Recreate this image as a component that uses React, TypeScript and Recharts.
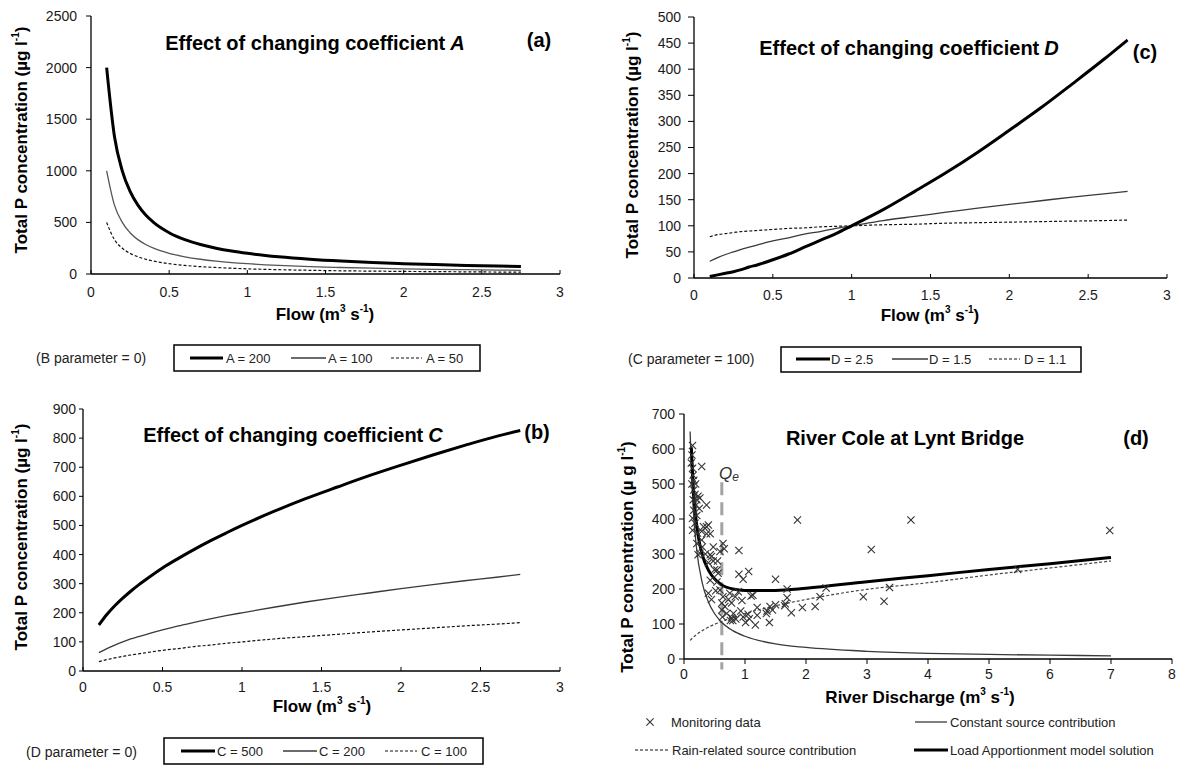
import React from 'react';
import { LineChart, ComposedChart, Line, Scatter, XAxis, YAxis, ReferenceLine } from 'recharts';

const W = 1185;
const H = 765;
const FONT = '"Liberation Sans", Arial, Helvetica, sans-serif';

// ---------- data: panels (a)-(c) share a flow grid ----------
const flowGrid = [0.1, 0.15, 0.2, 0.25, 0.3, 0.35, 0.4, 0.5, 0.6, 0.7, 0.8, 0.9, 1.0, 1.2, 1.4, 1.6, 1.8, 2.0, 2.2, 2.4, 2.6, 2.75];

// (a) changing coefficient A
const concA200 = [2000, 1333, 1000, 800, 667, 571, 500, 400, 333, 286, 250, 222, 200, 167, 143, 125, 111, 100, 91, 83, 77, 73];
const concA100 = [1000, 667, 500, 400, 333, 286, 250, 200, 167, 143, 125, 111, 100, 83, 71, 63, 56, 50, 45, 42, 38, 36];
const concA50 = [500, 333, 250, 200, 167, 143, 125, 100, 83, 71, 63, 56, 50, 42, 36, 31, 28, 25, 23, 21, 19, 18];

// (b) changing coefficient C
const concC500 = [158, 194, 224, 250, 274, 296, 316, 354, 387, 418, 447, 474, 500, 548, 592, 632, 671, 707, 742, 775, 806, 826];
const concC200 = [63, 77, 89, 100, 110, 118, 126, 141, 155, 167, 179, 190, 200, 219, 237, 253, 268, 283, 297, 310, 322, 332];
const concC100 = [32, 39, 45, 50, 55, 59, 63, 71, 77, 84, 89, 95, 100, 110, 118, 126, 134, 141, 148, 155, 161, 166];

// (c) changing coefficient D
const concD25 = [3, 6, 9, 12, 16, 21, 25, 35, 46, 59, 72, 85, 100, 131, 166, 202, 241, 283, 326, 372, 419, 456];
const concD15 = [32, 39, 45, 50, 55, 59, 63, 71, 77, 84, 89, 95, 100, 110, 118, 126, 134, 141, 148, 155, 161, 166];
const concD11 = [79, 83, 85, 87, 89, 90, 91, 93, 95, 96, 98, 99, 100, 102, 103, 105, 106, 107, 108, 109, 110, 111];

// (d) River Cole at Lynt Bridge
const constFlow = [0.1, 0.15, 0.2, 0.3, 0.4, 0.5, 0.6, 0.8, 1, 1.5, 2, 3, 4, 5, 6, 7];
const constConc = [650, 433, 325, 217, 163, 130, 108, 81, 65, 43, 33, 22, 16, 13, 11, 9];
const rainFlow = [0.1, 0.15, 0.2, 0.3, 0.4, 0.5, 0.6, 0.8, 1, 1.5, 2, 3, 4, 5, 6, 7];
const rainConc = [53, 62, 69, 81, 91, 99, 106, 119, 130, 152, 170, 199, 218, 240, 260, 280];
const modelFlow = [0.12, 0.15, 0.2, 0.3, 0.4, 0.5, 0.6, 0.8, 1, 1.2, 1.5, 2, 3, 4, 5, 6, 7];
const modelConc = [605, 495, 394, 298, 254, 229, 214, 200, 196, 196, 196, 202, 221, 238, 256, 272, 290];

const monitorFlow = [
  0.14, 0.29, 0.37, 1.86, 3.72, 3.07, 6.98, 5.47,
  0.64, 0.66, 0.9, 1.06, 0.9, 0.97, 1.5, 1.69, 2.33, 2.94, 3.28, 3.37, 2.23, 2.15, 1.94, 1.76, 1.66, 1.69,
  1.5, 1.41, 1.35, 1.4, 1.36, 1.2, 1.13, 1.17, 1.05, 1.07, 1.01, 0.97, 0.93, 0.85, 0.78, 0.81, 0.95, 0.84,
  0.89, 0.75, 0.73, 0.78, 0.67, 0.62, 0.64, 0.7, 0.63, 0.59, 0.54, 0.45, 0.43, 0.52, 0.4, 0.54, 0.55, 0.59,
  0.45, 0.43, 0.4, 0.48, 0.48, 0.43, 0.37, 0.37, 0.32, 0.4, 0.29, 0.26, 0.23, 0.21, 0.29, 0.22, 0.18, 0.21,
  0.16, 0.21, 0.23, 0.26, 0.18, 0.15, 0.16, 0.16, 0.15, 0.14, 0.13, 0.14, 0.14,
  0.19, 0.2, 0.25, 0.12, 0.13, 0.3, 0.35, 0.5, 0.56, 0.62, 0.76, 0.8, 1.2, 1.1, 1.65, 1.45,
];
const monitorConc = [
  610, 550, 440, 397, 397, 313, 367, 256,
  330, 315, 310, 250, 242, 228, 228, 200, 203, 178, 165, 204, 178, 150, 147, 132, 158, 175,
  155, 150, 130, 104, 137, 147, 182, 97, 128, 115, 104, 120, 137, 114, 118, 130, 167, 178,
  192, 188, 170, 160, 150, 160, 178, 130, 120, 197, 220, 170, 225, 195, 188, 254, 280, 307,
  293, 298, 275, 280, 320, 358, 358, 378, 378, 383, 340, 302, 298, 330, 365, 360, 388, 410,
  425, 455, 465, 460, 470, 455, 483, 511, 525, 545, 583, 402, 368,
  500, 440, 430, 560, 500, 320, 300, 255, 245, 140, 110, 110, 125, 180, 152, 140,
];
const qeFlow = 0.62;
const qeTop = 505;
const qeBottom = -30;

// ---------- ticks ----------
const flowTicks = [0, 0.5, 1, 1.5, 2, 2.5, 3];
const concTicksA = [0, 500, 1000, 1500, 2000, 2500];
const concTicksB = [0, 100, 200, 300, 400, 500, 600, 700, 800, 900];
const concTicksC = [0, 50, 100, 150, 200, 250, 300, 350, 400, 450, 500];
const dischargeTicks = [0, 1, 2, 3, 4, 5, 6, 7, 8];
const concTicksD = [0, 100, 200, 300, 400, 500, 600, 700];

const pts = (xs: number[], ys: number[]) => xs.map((x, i) => ({ x, y: ys[i] }));

type Box = { left: number; right: number; top: number; bottom: number };
const Y_W = 60;
const X_H = 30;
const marginOf = (b: Box) => ({ top: b.top, left: b.left - Y_W, right: W - b.right, bottom: H - b.bottom - X_H });

const boxA: Box = { left: 91, right: 560, top: 16, bottom: 274 };
const boxB: Box = { left: 83, right: 560, top: 409, bottom: 671 };
const boxC: Box = { left: 694, right: 1167, top: 17, bottom: 278 };
const boxD: Box = { left: 684, right: 1172, top: 414, bottom: 659 };

const tickStyle = { fill: '#1a1a1a', fontSize: 14, fontFamily: FONT };
const axisLine = { stroke: '#000', strokeWidth: 1.3 };
const frameLine = { stroke: '#8c8c8c', strokeWidth: 1.2 };

const frameAxes = () => [
  <XAxis key="fx" xAxisId="frame" orientation="top" type="number" domain={[0, 1]} height={0} tick={false} tickLine={false} axisLine={frameLine} />,
  <YAxis key="fy" yAxisId="frame" orientation="right" type="number" domain={[0, 1]} width={0} tick={false} tickLine={false} axisLine={frameLine} />,
];

const THICK = { stroke: '#000', strokeWidth: 3 };
const THIN = { stroke: '#3a3a3a', strokeWidth: 1.3 };
const DASH = { stroke: '#111', strokeWidth: 1.2, strokeDasharray: '3 2' };

const XMark = (props: any) => {
  const { cx, cy } = props;
  if (cx == null || cy == null) return null;
  const s = 3.6;
  return (
    <g stroke="#333" strokeWidth={1.1}>
      <line x1={cx - s} y1={cy - s} x2={cx + s} y2={cy + s} />
      <line x1={cx - s} y1={cy + s} x2={cx + s} y2={cy - s} />
    </g>
  );
};

const layer: React.CSSProperties = { position: 'absolute', left: 0, top: 0, width: W, height: H };

function ChartA() {
  return (
    <LineChart width={W} height={H} margin={marginOf(boxA)}>
      <XAxis dataKey="x" type="number" domain={[0, 3]} ticks={flowTicks} interval={0} height={X_H} tick={tickStyle} tickSize={-4} tickMargin={17} axisLine={axisLine} tickLine={{ stroke: '#000' }} />
      <YAxis dataKey="y" type="number" domain={[0, 2500]} ticks={concTicksA} interval={0} width={Y_W} tick={tickStyle} tickSize={5} tickMargin={9} axisLine={axisLine} tickLine={{ stroke: '#000' }} />
      {frameAxes()}
      <Line data={pts(flowGrid, concA50)} dataKey="y" type="monotone" {...DASH} dot={false} isAnimationActive={false} />
      <Line data={pts(flowGrid, concA100)} dataKey="y" type="monotone" {...THIN} stroke="#555" dot={false} isAnimationActive={false} />
      <Line data={pts(flowGrid, concA200)} dataKey="y" type="monotone" {...THICK} dot={false} isAnimationActive={false} />
    </LineChart>
  );
}

function ChartB() {
  return (
    <LineChart width={W} height={H} margin={marginOf(boxB)}>
      <XAxis dataKey="x" type="number" domain={[0, 3]} ticks={flowTicks} interval={0} height={X_H} tick={tickStyle} tickSize={-4} tickMargin={15} axisLine={axisLine} tickLine={{ stroke: '#000' }} />
      <YAxis dataKey="y" type="number" domain={[0, 900]} ticks={concTicksB} interval={0} width={Y_W} tick={tickStyle} tickSize={4} tickMargin={3} axisLine={axisLine} tickLine={{ stroke: '#000' }} />
      {frameAxes()}
      <Line data={pts(flowGrid, concC100)} dataKey="y" type="monotone" {...DASH} dot={false} isAnimationActive={false} />
      <Line data={pts(flowGrid, concC200)} dataKey="y" type="monotone" {...THIN} dot={false} isAnimationActive={false} />
      <Line data={pts(flowGrid, concC500)} dataKey="y" type="monotone" {...THICK} dot={false} isAnimationActive={false} />
    </LineChart>
  );
}

function ChartC() {
  return (
    <LineChart width={W} height={H} margin={marginOf(boxC)}>
      <XAxis dataKey="x" type="number" domain={[0, 3]} ticks={flowTicks} interval={0} height={X_H} tick={tickStyle} tickSize={-4} tickMargin={16} axisLine={axisLine} tickLine={{ stroke: '#000' }} />
      <YAxis dataKey="y" type="number" domain={[0, 500]} ticks={concTicksC} interval={0} width={Y_W} tick={tickStyle} tickSize={6} tickMargin={7} axisLine={axisLine} tickLine={{ stroke: '#000' }} />
      {frameAxes()}
      <Line data={pts(flowGrid, concD11)} dataKey="y" type="monotone" {...DASH} dot={false} isAnimationActive={false} />
      <Line data={pts(flowGrid, concD15)} dataKey="y" type="monotone" {...THIN} dot={false} isAnimationActive={false} />
      <Line data={pts(flowGrid, concD25)} dataKey="y" type="monotone" {...THICK} dot={false} isAnimationActive={false} />
    </LineChart>
  );
}

function ChartD() {
  return (
    <ComposedChart width={W} height={H} margin={marginOf(boxD)}>
      <XAxis dataKey="x" type="number" domain={[0, 8]} ticks={dischargeTicks} interval={0} height={X_H} tick={tickStyle} tickSize={5} tickMargin={5} axisLine={axisLine} tickLine={{ stroke: '#000' }} />
      <YAxis dataKey="y" type="number" domain={[0, 700]} ticks={concTicksD} interval={0} width={Y_W} tick={tickStyle} tickSize={5} tickMargin={4} axisLine={axisLine} tickLine={{ stroke: '#000' }} />
      {frameAxes()}
      <ReferenceLine segment={[{ x: qeFlow, y: qeTop }, { x: qeFlow, y: qeBottom }]} stroke="#a3a3a3" strokeWidth={3} strokeDasharray="13 7" ifOverflow="visible" />
      <Scatter data={pts(monitorFlow, monitorConc)} shape={XMark} isAnimationActive={false} />
      <Line data={pts(constFlow, constConc)} dataKey="y" type="monotone" {...THIN} dot={false} isAnimationActive={false} />
      <Line data={pts(rainFlow, rainConc)} dataKey="y" type="monotone" {...DASH} stroke="#444" dot={false} isAnimationActive={false} />
      <Line data={pts(modelFlow, modelConc)} dataKey="y" type="monotone" {...THICK} dot={false} isAnimationActive={false} />
    </ComposedChart>
  );
}

// ---------- text overlay ----------
const SUP = 10;
const Flow = ({ x, y, label }: { x: number; y: number; label: string }) => (
  <text x={x} y={y} textAnchor="middle" dominantBaseline="central" fontWeight="bold" fontSize={17} fill="#000">
    {label} (m<tspan dy={-6} fontSize={SUP}>3</tspan>
    <tspan dy={6}> s</tspan>
    <tspan dy={-6} fontSize={SUP}>-1</tspan>
    <tspan dy={6}>)</tspan>
  </text>
);

const YTitle = ({ x, y, mu }: { x: number; y: number; mu: string }) => (
  <text transform={`translate(${x},${y}) rotate(-90)`} textAnchor="middle" dominantBaseline="central" fontWeight="bold" fontSize={17} fill="#000">
    Total P concentration ({mu} l<tspan dy={-6} fontSize={SUP}>-1</tspan>
    <tspan dy={6}>)</tspan>
  </text>
);

const Title = ({ x, y, text, it }: { x: number; y: number; text: string; it?: string }) => (
  <text x={x} y={y} textAnchor="middle" dominantBaseline="central" fontWeight="bold" fontSize={20} fill="#000">
    {text}
    {it ? <tspan dx={5} fontStyle="italic">{it}</tspan> : null}
  </text>
);

const Tag = ({ x, y, t }: { x: number; y: number; t: string }) => (
  <text x={x} y={y} textAnchor="middle" dominantBaseline="central" fontWeight="bold" fontSize={20} fill="#000">{t}</text>
);

type LegItem = { x1: number; x2: number; tx: number; label: string; kind: 'thick' | 'thin' | 'dash' };
const sampleStyle = (k: LegItem['kind']) => (k === 'thick' ? THICK : k === 'thin' ? THIN : DASH);

const LegendRow = ({ y, items }: { y: number; items: LegItem[] }) => (
  <g>
    {items.map((it, i) => (
      <g key={i}>
        <line x1={it.x1} x2={it.x2} y1={y} y2={y} {...sampleStyle(it.kind)} />
        <text x={it.tx} y={y} dominantBaseline="central" fontSize={13} fill="#222">{it.label}</text>
      </g>
    ))}
  </g>
);

function Overlay() {
  return (
    <svg width={W} height={H} style={{ ...layer, pointerEvents: 'none' }} fontFamily={FONT}>
      {/* panel a */}
      <Title x={315} y={43} text="Effect of changing coefficient" it="A" />
      <Tag x={539} y={40} t="(a)" />
      <YTitle x={21} y={140} mu="µg" />
      <Flow x={325} y={314} label="Flow" />
      <text x={36} y={358} dominantBaseline="central" fontSize={14} fill="#222">(B parameter = 0)</text>
      <rect x={174} y={345} width={306} height={26} fill="none" stroke="#000" strokeWidth={1.5} />
      <LegendRow y={358} items={[
        { x1: 190, x2: 223, tx: 226, label: 'A = 200', kind: 'thick' },
        { x1: 291, x2: 326, tx: 328, label: 'A = 100', kind: 'thin' },
        { x1: 391, x2: 422, tx: 426, label: 'A = 50', kind: 'dash' },
      ]} />

      {/* panel c */}
      <Title x={909} y={48} text="Effect of changing coefficient" it="D" />
      <Tag x={1145} y={52} t="(c)" />
      <YTitle x={632} y={145} mu="µg" />
      <Flow x={930} y={315} label="Flow" />
      <text x={628} y={359} dominantBaseline="central" fontSize={14} fill="#222">(C parameter = 100)</text>
      <rect x={781} y={347} width={300} height={25} fill="none" stroke="#000" strokeWidth={1.5} />
      <LegendRow y={359} items={[
        { x1: 796, x2: 830, tx: 831, label: 'D = 2.5', kind: 'thick' },
        { x1: 892, x2: 928, tx: 929, label: 'D = 1.5', kind: 'thin' },
        { x1: 989, x2: 1020, tx: 1024, label: 'D = 1.1', kind: 'dash' },
      ]} />

      {/* panel b */}
      <Title x={293} y={435} text="Effect of changing coefficient" it="C" />
      <Tag x={537} y={432} t="(b)" />
      <YTitle x={21} y={537} mu="µg" />
      <Flow x={322} y={706} label="Flow" />
      <text x={26} y={752} dominantBaseline="central" fontSize={14} fill="#222">(D parameter = 0)</text>
      <rect x={164} y={738} width={319} height={26} fill="none" stroke="#000" strokeWidth={1.5} />
      <LegendRow y={751} items={[
        { x1: 181, x2: 215, tx: 217, label: 'C = 500', kind: 'thick' },
        { x1: 283, x2: 317, tx: 319, label: 'C = 200', kind: 'thin' },
        { x1: 385, x2: 417, tx: 421, label: 'C = 100', kind: 'dash' },
      ]} />

      {/* panel d */}
      <Title x={905} y={438} text="River Cole at Lynt Bridge" />
      <Tag x={1136} y={438} t="(d)" />
      <YTitle x={627} y={557} mu="µ g" />
      <Flow x={920} y={697} label="River Discharge" />
      <text x={719} y={473} dominantBaseline="central" fontSize={17} fontStyle="italic" fill="#333">
        Q<tspan dy={4} fontSize={12}>e</tspan>
      </text>
      <XMark cx={650} cy={722} />
      <text x={671} y={722} dominantBaseline="central" fontSize={13} fill="#222">Monitoring data</text>
      <LegendRow y={722} items={[{ x1: 915, x2: 947, tx: 950, label: 'Constant source contribution', kind: 'thin' }]} />
      <LegendRow y={750} items={[
        { x1: 635, x2: 669, tx: 672, label: 'Rain-related source contribution', kind: 'dash' },
        { x1: 914, x2: 948, tx: 950, label: 'Load Apportionment model solution', kind: 'thick' },
      ]} />
    </svg>
  );
}

export default function App() {
  return (
    <div style={{ position: 'absolute', left: 0, top: 0, width: W, height: H, background: '#fff', fontFamily: FONT, overflow: 'hidden' }}>
      <div style={layer}><ChartA /></div>
      <div style={layer}><ChartB /></div>
      <div style={layer}><ChartC /></div>
      <div style={layer}><ChartD /></div>
      <Overlay />
    </div>
  );
}
